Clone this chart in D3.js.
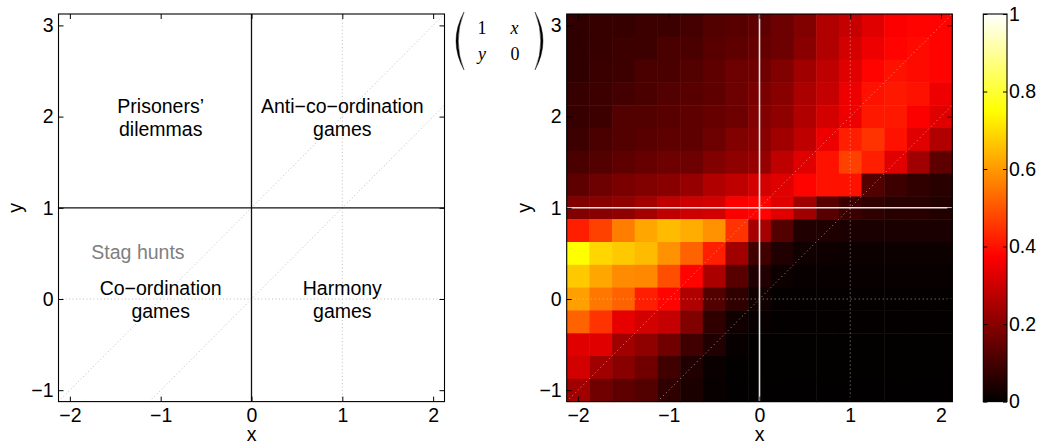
<!DOCTYPE html>
<html>
<head>
<meta charset="utf-8">
<script src="https://cdn.jsdelivr.net/npm/d3@7"></script>
<style>
  body { margin: 0; background: #fff; }
  text { font-family: "Liberation Sans", Arial, Helvetica, sans-serif; }
</style>
</head>
<body>
<svg id="chart"></svg>
<script>
// grid of the simulation (cell centres)
const xVals = [-2, -1.75, -1.5, -1.25, -1, -0.75, -0.5, -0.25, 0, 0.25, 0.5, 0.75, 1, 1.25, 1.5, 1.75, 2];
const yVals = [3, 2.75, 2.5, 2.25, 2, 1.75, 1.5, 1.25, 1, 0.75, 0.5, 0.25, 0, -0.25, -0.5, -0.75, -1];

// fraction per cell, one row per y value (top row first)
const fracRows = [
  [.07, .08, .08, .09, .09, .10, .12, .13, .14, .16, .19, .26, .29, .33, .37, .38, .38],
  [.07, .08, .09, .09, .11, .11, .13, .14, .15, .16, .20, .26, .31, .35, .38, .39, .38],
  [.07, .085, .09, .11, .11, .12, .14, .16, .165, .19, .235, .28, .33, .38, .40, .39, .38],
  [.08, .09, .10, .11, .12, .13, .14, .16, .18, .20, .25, .29, .35, .40, .41, .40, .35],
  [.08, .09, .12, .12, .13, .14, .15, .16, .19, .21, .26, .31, .35, .41, .41, .37, .33],
  [.09, .11, .12, .13, .14, .14, .16, .19, .20, .235, .28, .35, .42, .45, .40, .33, .26],
  [.11, .12, .14, .15, .16, .16, .19, .21, .22, .28, .33, .40, .47, .42, .33, .235, .14],
  [.14, .16, .18, .19, .20, .22, .26, .28, .31, .33, .38, .40, .40, .12, .09, .07, .06],
  [.19, .20, .21, .24, .28, .30, .31, .37, .38, .33, .235, .13, .085, .07, .06, .06, .05],
  [.42, .47, .56, .62, .65, .63, .59, .45, .245, .12, .047, .045, .038, .038, .038, .038, .038],
  [.75, .69, .67, .65, .59, .52, .42, .235, .094, .047, .024, .02, .018, .018, .018, .018, .018],
  [.67, .62, .58, .575, .49, .38, .25, .13, .047, .018, .012, .012, .012, .012, .012, .012, .012],
  [.61, .55, .52, .42, .38, .26, .12, .07, .024, .008, .008, .008, .008, .008, .008, .008, .008],
  [.52, .45, .34, .31, .29, .19, .07, .024, .012, .006, .006, .006, .006, .006, .006, .006, .006],
  [.33, .33, .235, .21, .165, .094, .047, .012, .005, .005, .005, .005, .005, .005, .005, .005, .005],
  [.31, .235, .20, .165, .094, .047, .015, .004, .004, .004, .004, .004, .004, .004, .004, .004, .004],
  [.235, .165, .14, .12, .07, .04, .012, .003, .003, .003, .003, .003, .003, .003, .003, .003, .003]
];

const xTicks = [-2, -1, 0, 1, 2];
const yTicks = [-1, 0, 1, 2, 3];
const cbTicks = [0, 0.2, 0.4, 0.6, 0.8, 1];

const regionText = [["Prisoners’", "dilemmas"], ["Anti\u2212co\u2212ordination", "games"], ["Co\u2212ordination", "games"], ["Harmony", "games"]];
const regionAt = [[-1, 2], [1, 2], [-1, 0], [1, 0]];
const stagText = "Stag hunts";
const stagAt = [-1.25, 0.5];

// boundaries between game classes
const solidLines = [[[0, -1.125], [0, 3.125]], [[-2.125, 1], [2.125, 1]]];
const dottedLines = [
  [[-2.125, 0], [2.125, 0]],
  [[1, -1.125], [1, 3.125]],
  [[-1.125, -1.125], [2.125, 2.125]],
  [[-2.125, -1.125], [2.125, 3.125]]
];

const width = 1042, height = 444;
const plotTop = 14, plotBottom = 401.6;
const fs = 19.5;

const svg = d3.select("#chart").attr("width", width).attr("height", height);

const y = d3.scaleLinear().domain([-1.125, 3.125]).range([plotBottom, plotTop]);
const xL = d3.scaleLinear().domain([-2.125, 2.125]).range([58.5, 444.5]);
const xR = d3.scaleLinear().domain([-2.125, 2.125]).range([566.7, 952.3]);

// matlab "hot"
function hot(v) {
  const c = t => Math.max(0, Math.min(1, t));
  return d3.rgb(255 * c(v / 0.375), 255 * c((v - 0.375) / 0.375), 255 * c((v - 0.75) / 0.25)).toString();
}

function styleAxis(a) {
  a.select(".domain").remove();
  a.selectAll("line").attr("stroke", "#000");
  a.selectAll("text").attr("font-size", fs).attr("fill", "#000")
    .style("font-family", '"Liberation Sans", Arial, sans-serif');
}

function drawAxes(x) {
  const g = svg.append("g");
  g.append("g").attr("transform", `translate(0,${plotBottom})`)
    .call(d3.axisBottom(x).tickValues(xTicks).tickSizeInner(-5).tickSizeOuter(0).tickPadding(7).tickFormat(d3.format("d")))
    .call(styleAxis);
  g.append("g").attr("transform", `translate(0,${plotTop})`)
    .call(d3.axisTop(x).tickValues(xTicks).tickSizeInner(-5).tickSizeOuter(0).tickFormat(() => ""))
    .call(styleAxis);
  g.append("g").attr("transform", `translate(${x.range()[0]},0)`)
    .call(d3.axisLeft(y).tickValues(yTicks).tickSizeInner(-5).tickSizeOuter(0).tickPadding(5).tickFormat(d3.format("d")))
    .call(styleAxis);
  g.append("g").attr("transform", `translate(${x.range()[1]},0)`)
    .call(d3.axisRight(y).tickValues(yTicks).tickSizeInner(-5).tickSizeOuter(0).tickFormat(() => ""))
    .call(styleAxis);
  g.append("rect")
    .attr("x", x.range()[0]).attr("y", plotTop)
    .attr("width", x.range()[1] - x.range()[0]).attr("height", plotBottom - plotTop)
    .attr("fill", "none").attr("stroke", "#000").attr("stroke-width", 1.1);
  svg.append("text").attr("x", x(0)).attr("y", 441)
    .attr("text-anchor", "middle").attr("font-size", fs).text("x");
}

const lineGen = x => d3.line().x(d => x(d[0])).y(d => y(d[1]));

// ---------- left panel ----------
const left = svg.append("g");
dottedLines.forEach(l => left.append("path").attr("d", lineGen(xL)(l))
  .attr("fill", "none").attr("stroke", "#bdbdbd").attr("stroke-width", 1).attr("stroke-dasharray", "1,2.5"));
solidLines.forEach(l => left.append("path").attr("d", lineGen(xL)(l))
  .attr("fill", "none").attr("stroke", "#111").attr("stroke-width", 1.3));

regionText.forEach((lines, i) => {
  const t = left.append("text").attr("text-anchor", "middle").attr("font-size", fs)
    .attr("x", xL(regionAt[i][0])).attr("y", y(regionAt[i][1]) - 4);
  lines.forEach((s, k) => t.append("tspan").attr("x", xL(regionAt[i][0])).attr("dy", k ? 23.3 : 0).text(s));
});
left.append("text").attr("text-anchor", "middle").attr("font-size", fs).attr("fill", "#808080")
  .attr("x", xL(stagAt[0])).attr("y", y(stagAt[1]) + 6).text(stagText);

drawAxes(xL);
svg.append("text").attr("transform", `translate(22,${y(1)}) rotate(-90)`)
  .attr("text-anchor", "middle").attr("font-size", fs).text("y");

// ---------- heatmap ----------
const cw = xR(0.25) - xR(0), ch = y(0) - y(0.25);
const cells = [];
fracRows.forEach((row, i) => row.forEach((v, j) => cells.push({ x: xVals[j], y: yVals[i], v })));
svg.append("g").selectAll("rect").data(cells).join("rect")
  .attr("x", d => xR(d.x - 0.125)).attr("y", d => y(d.y + 0.125))
  .attr("width", cw + 0.5).attr("height", ch + 0.5)
  .attr("fill", d => hot(d.v));

const ov = svg.append("g");
dottedLines.forEach(l => ov.append("path").attr("d", lineGen(xR)(l))
  .attr("fill", "none").attr("stroke", "#d8d8d8").attr("stroke-opacity", 0.7)
  .attr("stroke-width", 1).attr("stroke-dasharray", "1,3"));
solidLines.forEach(l => ov.append("path").attr("d", lineGen(xR)(l))
  .attr("fill", "none").attr("stroke", "#e6e6e6").attr("stroke-width", 1.6));

drawAxes(xR);
svg.append("text").attr("transform", `translate(531,${y(1)}) rotate(-90)`)
  .attr("text-anchor", "middle").attr("font-size", fs).text("y");

// matrix label
const mx = svg.append("g");
mx.append("path").attr("d", "M464,12 Q448,41 464,70 Q452.5,41 464,12 Z").attr("fill", "#000").attr("stroke", "#000").attr("stroke-width", 0.4);
mx.append("path").attr("d", "M535,12 Q551,41 535,70 Q546.5,41 535,12 Z").attr("fill", "#000").attr("stroke", "#000").attr("stroke-width", 0.4);
[["1", 482, 33.5, "normal"], ["x", 514.5, 33.5, "italic"], ["y", 482, 60, "italic"], ["0", 515, 60, "normal"]]
  .forEach(e => mx.append("text").attr("x", e[1]).attr("y", e[2]).attr("text-anchor", "middle")
    .attr("font-size", 18).attr("font-style", e[3])
    .style("font-family", '"Liberation Serif", "DejaVu Serif", serif').text(e[0]));

// ---------- colour bar ----------
const cbL = 983.3, cbR = 1007;
const cy = d3.scaleLinear().domain([0, 1]).range([plotBottom, plotTop]);
const grad = svg.append("defs").append("linearGradient").attr("id", "hotgrad")
  .attr("x1", 0).attr("y1", 1).attr("x2", 0).attr("y2", 0);
[0, 0.375, 0.75, 1].forEach(s => grad.append("stop").attr("offset", s).attr("stop-color", hot(s)));
svg.append("rect").attr("x", cbL).attr("y", plotTop).attr("width", cbR - cbL).attr("height", plotBottom - plotTop)
  .attr("fill", "url(#hotgrad)").attr("stroke", "#000").attr("stroke-width", 1.1);
svg.append("g").attr("transform", `translate(${cbL},0)`)
  .call(d3.axisLeft(cy).tickValues(cbTicks).tickSizeInner(-4).tickSizeOuter(0).tickFormat(() => ""))
  .call(styleAxis);
svg.append("g").attr("transform", `translate(${cbR},0)`)
  .call(d3.axisRight(cy).tickValues(cbTicks).tickSizeInner(-4).tickSizeOuter(0).tickPadding(2).tickFormat(d3.format("~g")))
  .call(styleAxis);
</script>
</body>
</html>
